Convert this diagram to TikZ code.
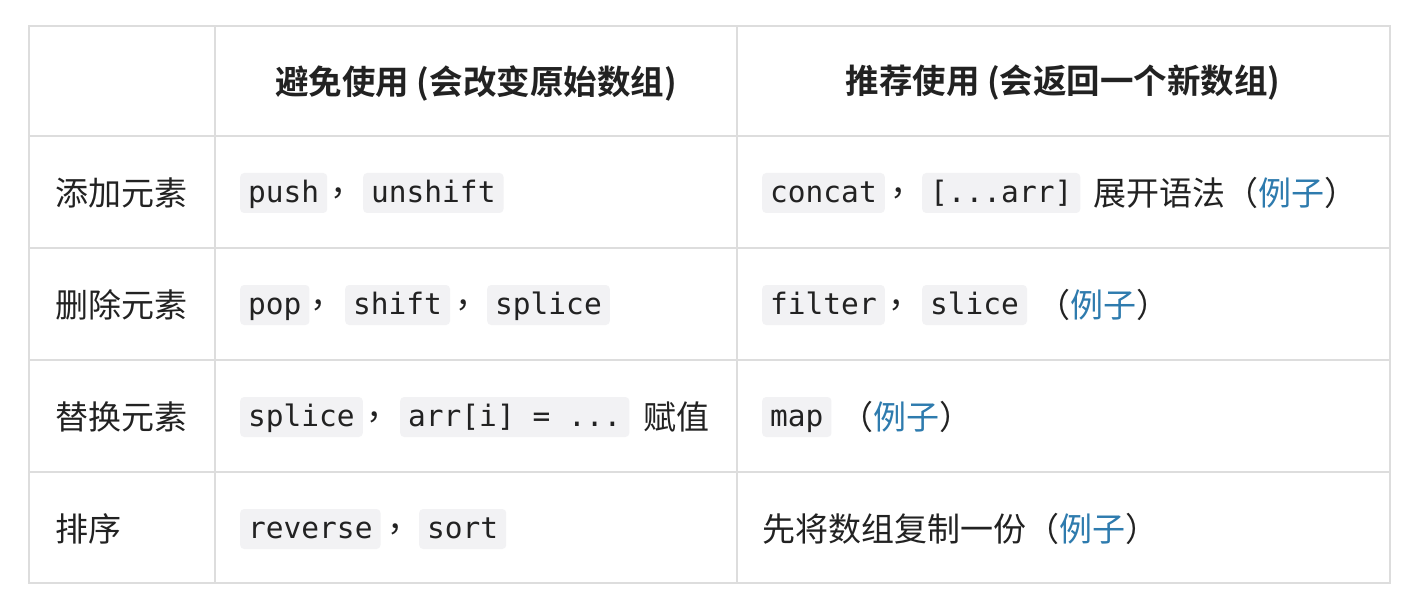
\documentclass[tikz,border=0pt]{standalone}
\usepackage{fontspec}
\setmainfont[BoldFont={Noto Sans CJK SC Bold}]{Noto Sans CJK SC}
\setmonofont{DejaVu Sans Mono}
\definecolor{grid}{HTML}{DDDDDD}
\definecolor{txt}{HTML}{222222}
\definecolor{chipbg}{HTML}{F2F2F4}
\definecolor{link}{HTML}{2E7BAE}
\begin{document}
\begin{tikzpicture}[x=1pt,y=-1pt,
  every node/.style={font=\fontsize{33}{36}\selectfont, text=txt, inner sep=0pt, anchor=west},
  chip/.style={font=\fontsize{29.5}{32}\ttfamily, fill=chipbg, rounded corners=4pt, inner xsep=8pt, minimum height=40pt, text height=25pt, text depth=6pt},
  hdr/.style={font=\fontsize{33.5}{36}\bfseries, anchor=center}]
\useasboundingbox (0,0) rectangle (1416,604);
\fill[white] (0,0) rectangle (1416,604);
\draw[grid, line width=1.5pt] (29,26) rectangle (1390,583);
\foreach \x in {215,737} \draw[grid, line width=1.5pt] (\x,26) -- (\x,583);
\foreach \y in {136,248,360,472} \draw[grid, line width=1.5pt] (29,\y) -- (1390,\y);
\node[hdr] (h1) at (476,83) {避免使用 (会改变原始数组)};
\node[hdr] (h2) at (1063,83) {推荐使用 (会返回一个新数组)};
% row 1
\node (r1) at (55,193) {添加元素};
\node[chip] (c11) at (240,193) {push};
\node (k11) at (330,193) {，};
\node[chip] (c12) at (363,193) {unshift};
\node[chip] (d11) at (762,193) {concat};
\node (k12) at (890,193) {，};
\node[chip] (d12) at (922,193) {[...arr]};
\node (t1) at (1093,193) {展开语法（\textcolor{link}{例子}）};
% row 2
\node (r2) at (55,305) {删除元素};
\node[chip] (c21) at (240,305) {pop};
\node (k21) at (310,305) {，};
\node[chip] (c22) at (345,305) {shift};
\node (k22) at (455,305) {，};
\node[chip] (c23) at (487,305) {splice};
\node[chip] (d21) at (762,305) {filter};
\node (k23) at (888,305) {，};
\node[chip] (d22) at (922,305) {slice};
\node (t2) at (1037,305) {（\textcolor{link}{例子}）};
% row 3
\node (r3) at (55,417) {替换元素};
\node[chip] (c31) at (240,417) {splice};
\node (k31) at (366,417) {，};
\node[chip] (c32) at (400,417) {arr[i] = ...};
\node (t31) at (643,417) {赋值};
\node[chip] (d31) at (762,417) {map};
\node (t3) at (840,417) {（\textcolor{link}{例子}）};
% row 4
\node (r4) at (55,529) {排序};
\node[chip] (c41) at (240,529) {reverse};
\node (k41) at (387,529) {，};
\node[chip] (c42) at (419,529) {sort};
\node (t4) at (762,529) {先将数组复制一份（\textcolor{link}{例子}）};
\end{tikzpicture}
\end{document}
